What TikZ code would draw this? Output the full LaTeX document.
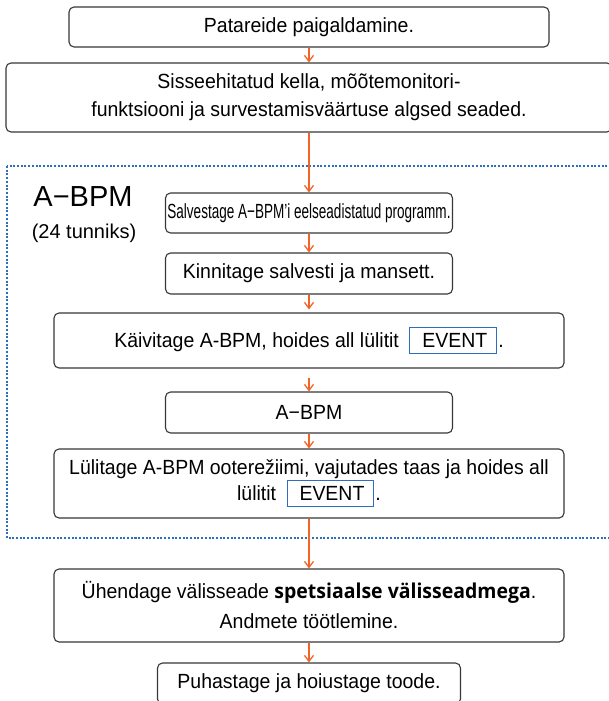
\documentclass[tikz,border=0pt]{standalone}
\usepackage{fontspec}
\setmainfont{Liberation Sans}[FakeStretch=0.95]
\newfontfamily\plainfont{Liberation Sans}
\newfontfamily\condfont{Liberation Sans}[FakeStretch=0.66]
\newfontfamily\boldfont{Open Sans}[FakeStretch=0.95]
\usepackage{xcolor}
\definecolor{flowor}{RGB}{240,100,40}
\definecolor{grpblue}{RGB}{46,110,190}
\definecolor{boxgray}{RGB}{55,55,55}
\usetikzlibrary{arrows.meta}

% framed EVENT key inside the text
\newcommand\evkey{\kern5pt{\setlength\fboxsep{0pt}\setlength\fboxrule{1pt}%
  \fcolorbox{grpblue}{white}{\kern12pt\rule[-6pt]{0pt}{25pt}EVENT\kern9pt}}\kern1pt}

\begin{document}
\begin{tikzpicture}[
  x=1pt, y=-1pt,
  stepbox/.style={rectangle, rounded corners=5pt, draw=boxgray, line width=1.1pt,
                  fill=white, align=center, inner sep=0pt,
                  font=\fontsize{20.5}{28}\selectfont},
  flow/.style={draw=flowor, line width=1.3pt, -{Straight Barb[length=6pt,width=9pt]}},
  grpframe/.style={draw=grpblue, line width=2pt, dash pattern=on 2pt off 1.7pt}
]
\useasboundingbox (0,0) rectangle (609,701);

% dotted group of the 24 h measurement
\draw[grpframe] (7,166) rectangle (640,538);
\node[font=\plainfont\fontsize{29}{34}\selectfont] (grp) at (83,197) {A−BPM};
\node[font=\plainfont\fontsize{20}{24}\selectfont] (grpdur) at (84,233) {(24 tunniks)};

\node[stepbox, minimum width=480pt, minimum height=40pt] (bat) at (309,27)
  {Patareide paigaldamine.};
\node[stepbox, minimum width=606pt, minimum height=69pt] (init) at (309,97.5)
  {Sisseehitatud kella, mõõtemonitori-\\funktsiooni ja survestamisväärtuse algsed seaded.};
\node[stepbox, minimum width=287pt, minimum height=40pt] (save) at (309,213)
  {\condfont Salvestage A−BPM’i eelseadistatud programm.};
\node[stepbox, minimum width=287pt, minimum height=41pt] (cuff) at (309,273.5)
  {Kinnitage salvesti ja mansett.};
\node[stepbox, minimum width=510pt, minimum height=55pt] (start) at (309,340.5)
  {Käivitage A-BPM, hoides all lülitit \evkey.};
\node[stepbox, minimum width=287pt, minimum height=41pt] (meas) at (309,412.5)
  {A−BPM};
\node[stepbox, minimum width=510pt, minimum height=69pt,
      font=\fontsize{20.5}{23}\selectfont] (stby) at (309,483.5)
  {Lülitage A-BPM ooterežiimi, vajutades taas ja hoides all\\lülitit \evkey.};
\node[stepbox, minimum width=510pt, minimum height=73pt, font=\fontsize{20.5}{30}\selectfont] (conn) at (309,605.5)
  {Ühendage välisseade {\boldfont\bfseries spetsiaalse välisseadmega}.\\Andmete töötlemine.};
\node[stepbox, minimum width=303pt, minimum height=41pt] (clean) at (309,683.5)
  {Puhastage ja hoiustage toode.};

\draw[flow] (bat) -- (init);
\draw[flow] (init) -- (save);
\draw[flow] (save) -- (cuff);
\draw[flow, shorten >=3pt] (cuff) -- (start);
\draw[flow, shorten <=9pt] (start) -- (meas);
\draw[flow] (meas) -- (stby);
\draw[flow] (stby) -- (conn);
\draw[flow] (conn) -- (clean);
\end{tikzpicture}
\end{document}
